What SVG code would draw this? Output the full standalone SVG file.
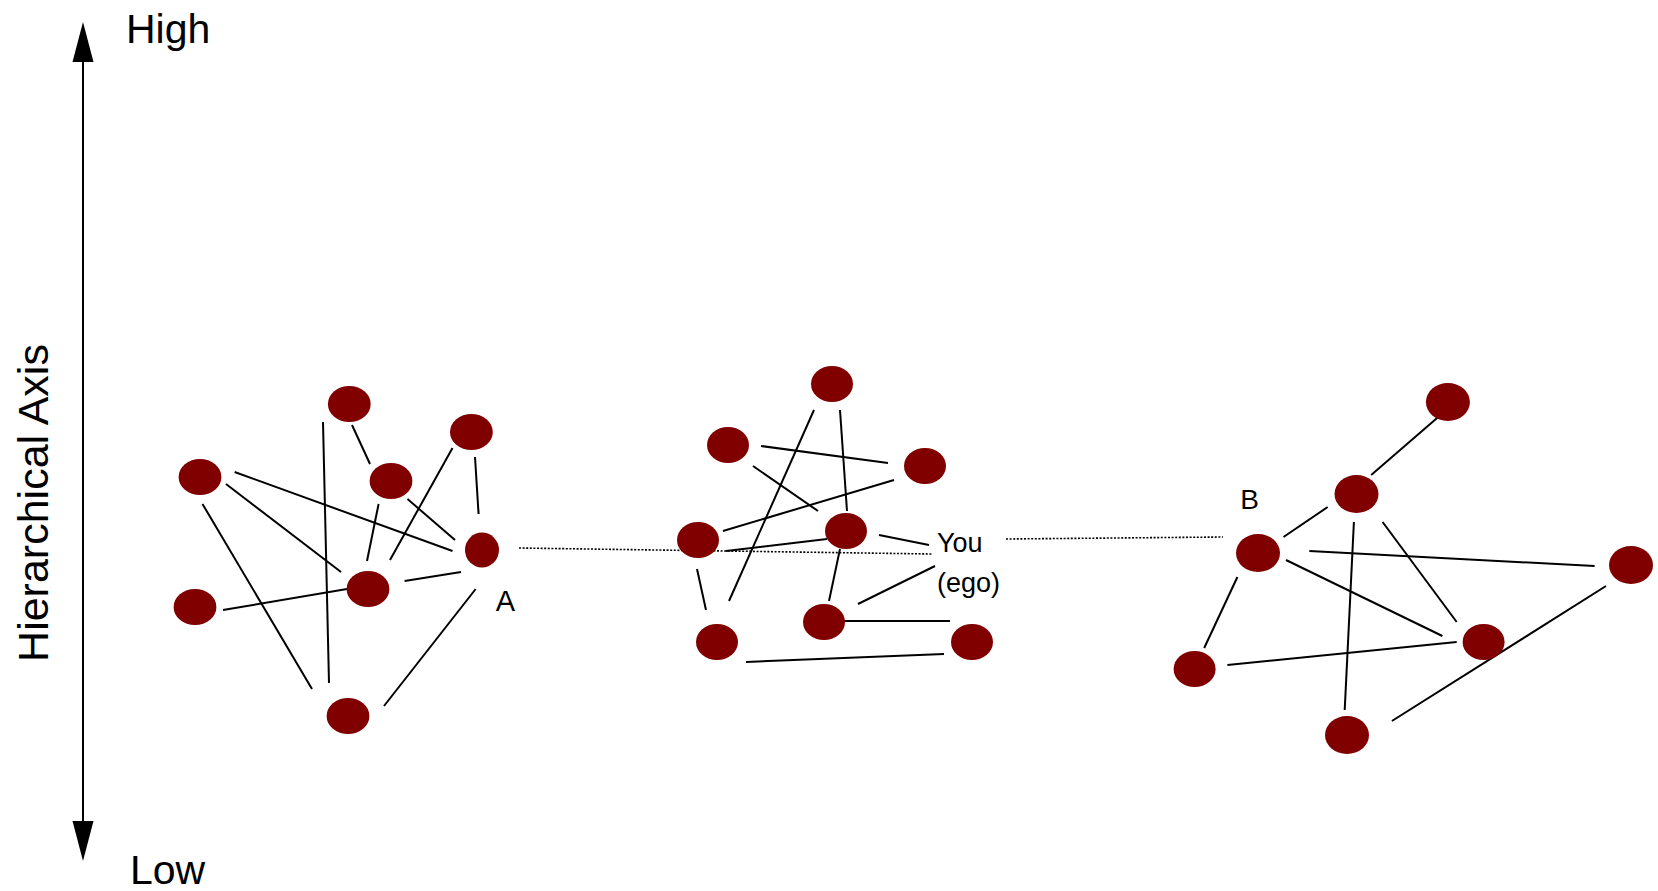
<svg xmlns="http://www.w3.org/2000/svg" width="1658" height="891" viewBox="0 0 1658 891">
<defs>
<style>
.n{fill:#800000}
.e{stroke:#000;stroke-width:2;fill:none}
.d{stroke:#000;stroke-width:1.6;stroke-dasharray:2,1.6;fill:none}
.t{font-family:"Liberation Sans",Arial,sans-serif;fill:#000}
</style>
</defs>
<rect width="1658" height="891" fill="#fff"/>
<g id="axis">
<line x1="83" y1="62" x2="83" y2="821" stroke="#000" stroke-width="2"/>
<path d="M83,22 L93.5,62 L72.5,62 Z" fill="#000"/>
<path d="M83,861 L93.5,821 L72.5,821 Z" fill="#000"/>
<text class="t" x="126" y="43" font-size="41">High</text>
<text class="t" x="130" y="884" font-size="41">Low</text>
<text class="t" transform="translate(48,503) rotate(-90)" text-anchor="middle" font-size="43">Hierarchical Axis</text>
</g>
<g id="connectors">
<line class="e" x1="234.6" y1="472" x2="452.5" y2="551"/>
<line class="e" x1="226" y1="484" x2="341" y2="572"/>
<line class="e" x1="202.5" y1="504" x2="312" y2="689"/>
<line class="e" x1="323" y1="422" x2="329" y2="683"/>
<line class="e" x1="352" y1="425" x2="370" y2="464"/>
<line class="e" x1="475" y1="457" x2="478.6" y2="514"/>
<line class="e" x1="452.5" y1="448" x2="390" y2="560"/>
<line class="e" x1="378.6" y1="504" x2="367" y2="561"/>
<line class="e" x1="407.5" y1="499" x2="455" y2="540"/>
<line class="e" x1="404.6" y1="581" x2="461" y2="572"/>
<line class="e" x1="223" y1="610" x2="347" y2="589"/>
<line class="e" x1="384" y1="706" x2="475.7" y2="589"/>
<line class="e" x1="814" y1="410" x2="729" y2="601"/>
<line class="e" x1="840" y1="410" x2="847" y2="511"/>
<line class="e" x1="761" y1="446" x2="888" y2="463"/>
<line class="e" x1="753" y1="466" x2="818" y2="511"/>
<line class="e" x1="894" y1="480" x2="723" y2="531"/>
<line class="e" x1="726" y1="551" x2="827" y2="539"/>
<line class="e" x1="879" y1="535" x2="929" y2="545"/>
<line class="e" x1="697" y1="569" x2="706" y2="610"/>
<line class="e" x1="840" y1="549" x2="829" y2="601"/>
<line class="e" x1="935" y1="566" x2="858" y2="604"/>
<line class="e" x1="843" y1="621" x2="950" y2="621"/>
<line class="e" x1="746" y1="662" x2="944" y2="654"/>
<line class="e" x1="1439.4" y1="416" x2="1371.2" y2="475"/>
<line class="e" x1="1327.7" y1="507" x2="1283.5" y2="537"/>
<line class="e" x1="1353.9" y1="522" x2="1344.7" y2="710"/>
<line class="e" x1="1382.6" y1="522" x2="1456.7" y2="622"/>
<line class="e" x1="1309.3" y1="551" x2="1594.6" y2="566"/>
<line class="e" x1="1286" y1="560" x2="1442.4" y2="636"/>
<line class="e" x1="1237.4" y1="577" x2="1204.2" y2="648"/>
<line class="e" x1="1227.4" y1="665" x2="1456.7" y2="642"/>
<line class="e" x1="1606" y1="586" x2="1391.9" y2="721"/>
<line class="d" x1="519" y1="548" x2="932" y2="554"/>
<line class="d" x1="1006" y1="539" x2="1223" y2="537"/>
</g>
<g id="group-a">
<ellipse id="a1" class="n" cx="349.3" cy="404" rx="21.4" ry="18"/>
<ellipse id="a2" class="n" cx="471.4" cy="432" rx="21.4" ry="18"/>
<ellipse id="a3" class="n" cx="200" cy="477" rx="21.4" ry="18"/>
<ellipse id="a4" class="n" cx="391" cy="481" rx="21.4" ry="18"/>
<ellipse id="a5" class="n" cx="482" cy="550" rx="17" ry="17.5"/>
<ellipse id="a6" class="n" cx="368" cy="589" rx="21.4" ry="18"/>
<ellipse id="a7" class="n" cx="195" cy="607" rx="21.4" ry="18"/>
<ellipse id="a8" class="n" cx="348" cy="716" rx="21.4" ry="18"/>
<text class="t" x="495.7" y="611" font-size="29">A</text>
</g>
<g id="group-ego">
<ellipse id="e1" class="n" cx="832" cy="384" rx="21" ry="18"/>
<ellipse id="e2" class="n" cx="728" cy="445" rx="21" ry="18"/>
<ellipse id="e3" class="n" cx="925" cy="466" rx="21" ry="18"/>
<ellipse id="e4" class="n" cx="698" cy="540" rx="21" ry="18"/>
<ellipse id="e5" class="n" cx="846" cy="531" rx="21" ry="18"/>
<ellipse id="e6" class="n" cx="717" cy="642" rx="21" ry="18"/>
<ellipse id="e7" class="n" cx="824" cy="622" rx="21" ry="18"/>
<ellipse id="e8" class="n" cx="972" cy="642" rx="21" ry="18"/>
<text class="t" x="937" y="552" font-size="27">You</text>
<text class="t" x="937" y="592" font-size="27">(ego)</text>
</g>
<g id="group-b">
<ellipse id="b1" class="n" cx="1447.9" cy="402" rx="22" ry="19"/>
<ellipse id="b2" class="n" cx="1356.5" cy="494" rx="22" ry="19"/>
<ellipse id="b3" class="n" cx="1258" cy="553" rx="22" ry="19"/>
<ellipse id="b4" class="n" cx="1631" cy="565" rx="22" ry="19"/>
<ellipse id="b5" class="n" cx="1483.6" cy="642" rx="21" ry="18"/>
<ellipse id="b6" class="n" cx="1194.6" cy="669" rx="21" ry="18"/>
<ellipse id="b7" class="n" cx="1347" cy="735" rx="22" ry="19"/>
<text class="t" x="1240.3" y="509" font-size="28">B</text>
</g>
</svg>
